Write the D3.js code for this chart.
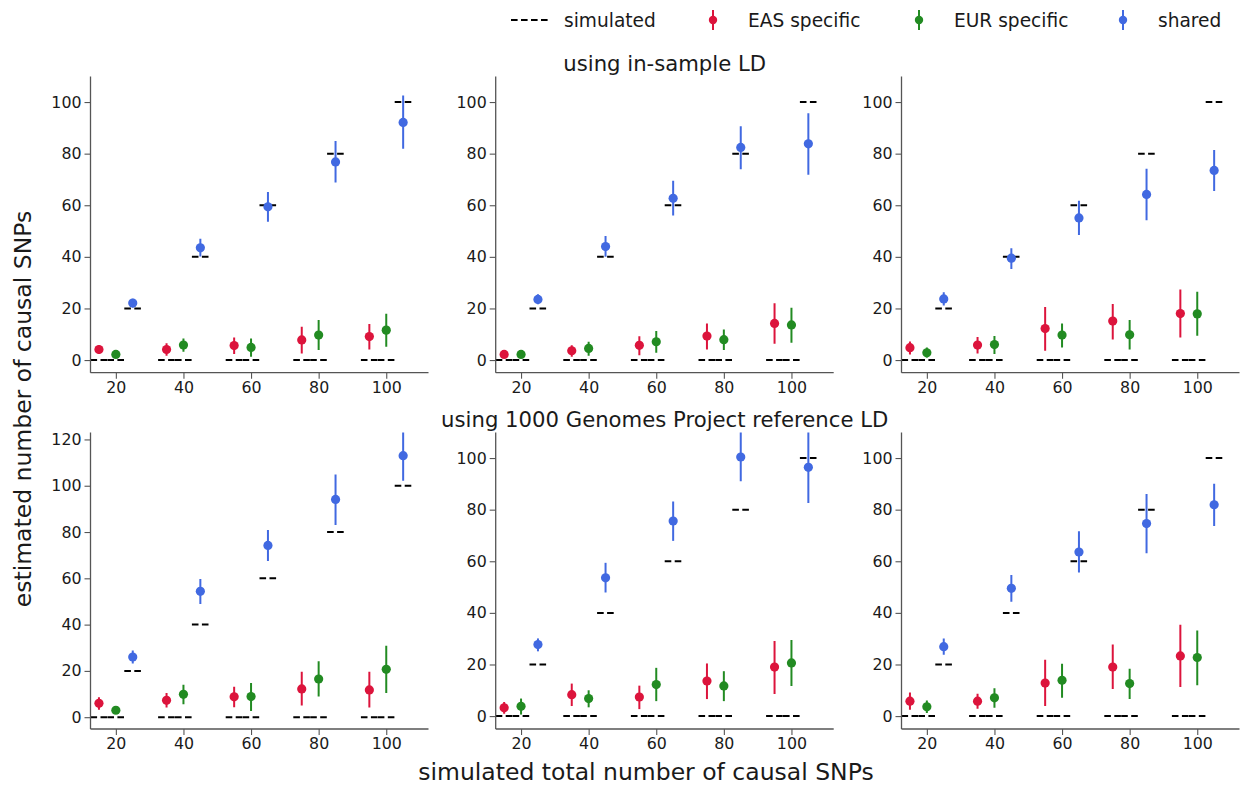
<!DOCTYPE html>
<html><head><meta charset="utf-8">
<script src="https://cdn.jsdelivr.net/npm/d3@7"></script>
<style>body{margin:0;background:#fff;} text{font-family:"DejaVu Sans",sans-serif;}</style>
</head><body>
<svg id="chart" width="1241" height="785"></svg>
<script>
const categories = [20, 40, 60, 80, 100];
const seriesNames = ["EAS specific", "EUR specific", "shared"];
const seriesColors = ["#DC143C", "#228B22", "#4169E1"];
const seriesOffsets = [-5, 0, 5];
const rowTitles = ["using in-sample LD", "using 1000 Genomes Project reference LD"];
const yTicksDefault = [0, 20, 40, 60, 80, 100];
const yTicksWide = [0, 20, 40, 60, 80, 100, 120];
const xLabel = "simulated total number of causal SNPs";
const yLabel = "estimated number of causal SNPs";

// each entry: [value, lower, upper] per category
const inSample_EAS_col1 = [[4.1,2.3,5.7],[4.1,1.7,6.5],[5.6,2.3,8.7],[7.8,2.5,12.9],[9.1,4.1,14.0]];
const inSample_EUR_col1 = [[2.2,1.0,3.5],[5.8,3.2,8.4],[4.9,1.3,8.4],[9.7,3.9,15.5],[11.6,5.2,17.9]];
const inSample_shared_col1 = [[22.1,20.4,23.8],[43.5,40.1,47.0],[59.4,53.6,65.1],[76.8,68.8,84.9],[92.1,81.9,102.5]];

const inSample_EAS_col2 = [[2.2,1.6,2.8],[3.6,1.3,5.7],[5.7,1.9,9.2],[9.3,4.1,14.2],[14.2,6.3,22.0]];
const inSample_EUR_col2 = [[2.2,1.6,2.8],[4.5,1.7,7.1],[7.1,2.8,11.3],[7.9,3.9,11.8],[13.6,6.7,20.3]];
const inSample_shared_col2 = [[23.5,21.6,25.5],[44.0,40.0,48.1],[62.7,56.0,69.5],[82.4,74.0,90.6],[83.8,71.8,95.7]];

const inSample_EAS_col3 = [[4.8,2.2,7.2],[5.8,2.5,8.9],[12.2,3.6,20.6],[15.1,8.0,21.7],[18.0,8.7,27.3]];
const inSample_EUR_col3 = [[2.8,1.0,4.9],[6.0,2.3,9.3],[9.7,4.9,14.2],[9.8,4.1,15.5],[17.9,9.4,26.5]];
const inSample_shared_col3 = [[23.7,21.1,26.3],[39.5,35.3,43.3],[55.1,48.5,61.7],[64.2,54.2,74.1],[73.5,65.5,81.4]];

const ref_EAS_col1 = [[6.0,3.2,8.6],[7.3,4.2,10.4],[8.8,4.3,13.1],[12.2,5.0,19.6],[11.8,4.2,19.6]];
const ref_EUR_col1 = [[3.0,1.7,4.6],[9.9,5.6,14.0],[8.9,2.7,14.8],[16.5,8.9,24.2],[20.7,10.4,30.9]];
const ref_shared_col1 = [[26.0,23.2,28.8],[54.4,48.9,59.7],[74.2,67.5,80.9],[94.1,83.0,104.9],[113.0,102.2,124.5]];

const ref_EAS_col2 = [[3.2,0.9,5.5],[8.3,3.9,12.6],[7.4,2.7,11.8],[13.6,6.6,20.4],[19.0,8.6,29.1]];
const ref_EUR_col2 = [[3.8,0.6,6.8],[6.8,3.4,10.0],[12.2,5.8,18.7],[11.7,5.8,17.4],[20.6,11.7,29.5]];
const ref_shared_col2 = [[27.7,25.1,30.1],[53.6,47.9,59.4],[75.6,67.9,83.2],[100.4,91.0,111.0],[96.4,82.6,112.0]];

const ref_EAS_col3 = [[5.8,2.5,9.1],[5.8,2.8,8.7],[12.8,3.9,21.8],[19.0,10.5,27.7],[23.3,11.3,35.4]];
const ref_EUR_col3 = [[3.6,1.2,6.0],[7.1,3.2,10.8],[13.9,7.1,20.3],[12.6,6.6,18.3],[22.7,12.0,33.2]];
const ref_shared_col3 = [[26.9,23.8,30.1],[49.5,44.3,54.7],[63.6,55.6,71.6],[74.6,63.1,86.1],[81.9,73.7,90.0]];

const xDomain = [12.5, 112.5];
const yDomainRow1 = [-4.9, 109.9];
const yDomainRow2Col1 = [-5.1, 123.0];
const yDomainRow2 = [-5.0, 109.9];

const panels = [
  {row:0, col:0, series:[inSample_EAS_col1, inSample_EUR_col1, inSample_shared_col1], yDomain:yDomainRow1, yTicks:yTicksDefault},
  {row:0, col:1, series:[inSample_EAS_col2, inSample_EUR_col2, inSample_shared_col2], yDomain:yDomainRow1, yTicks:yTicksDefault},
  {row:0, col:2, series:[inSample_EAS_col3, inSample_EUR_col3, inSample_shared_col3], yDomain:yDomainRow1, yTicks:yTicksDefault},
  {row:1, col:0, series:[ref_EAS_col1, ref_EUR_col1, ref_shared_col1], yDomain:yDomainRow2Col1, yTicks:yTicksWide},
  {row:1, col:1, series:[ref_EAS_col2, ref_EUR_col2, ref_shared_col2], yDomain:yDomainRow2, yTicks:yTicksDefault},
  {row:1, col:2, series:[ref_EAS_col3, ref_EUR_col3, ref_shared_col3], yDomain:yDomainRow2, yTicks:yTicksDefault},
];

// layout
const colLeft = [90.5, 495.7, 901.5];
const panelW = 338;
const rowTop = [76.5, 432.5];
const rowBottom = [372.7, 729];
const spineColor = "#555";
const textColor = "#1a1a1a";
const dashPattern = "6.6,3.4";

const svg = d3.select("#chart");

panels.forEach(p => {
  const x0 = colLeft[p.col], x1 = x0 + panelW;
  const y0 = rowTop[p.row], y1 = rowBottom[p.row];
  const x = d3.scaleLinear().domain(xDomain).range([x0, x1]);
  const y = d3.scaleLinear().domain(p.yDomain).range([y1, y0]);
  const clipId = `clip-${p.row}-${p.col}`;
  svg.append("clipPath").attr("id", clipId).append("rect")
    .attr("x", x0).attr("y", y0).attr("width", panelW).attr("height", y1 - y0);
  const g = svg.append("g").attr("clip-path", `url(#${clipId})`);

  // simulated dashes
  categories.forEach(c => {
    seriesOffsets.forEach((off, si) => {
      const val = si === 2 ? c : 0;
      g.append("line")
        .attr("x1", x(c + off - 2.5)).attr("x2", x(c + off + 2.5))
        .attr("y1", y(val)).attr("y2", y(val))
        .attr("stroke", "#000").attr("stroke-width", 2)
        .attr("stroke-dasharray", dashPattern);
    });
  });

  // error bars & points
  p.series.forEach((data, si) => {
    data.forEach((d, ci) => {
      const cx = x(categories[ci] + seriesOffsets[si]);
      g.append("line")
        .attr("x1", cx).attr("x2", cx)
        .attr("y1", y(d[1])).attr("y2", y(d[2]))
        .attr("stroke", seriesColors[si]).attr("stroke-width", 2);
      g.append("circle")
        .attr("cx", cx).attr("cy", y(d[0])).attr("r", 4.6)
        .attr("fill", seriesColors[si]);
    });
  });

  // axes
  const xAxis = d3.axisBottom(x).tickValues(categories).tickSize(6).tickPadding(3);
  const yAxis = d3.axisLeft(y).tickValues(p.yTicks).tickSize(6).tickPadding(3);
  const gx = svg.append("g").attr("transform", `translate(0,${y1})`).call(xAxis);
  const gy = svg.append("g").attr("transform", `translate(${x0},0)`).call(yAxis);
  [gx, gy].forEach(ax => {
    ax.select(".domain").attr("stroke", spineColor).attr("stroke-width", 1.3);
    ax.selectAll(".tick line").attr("stroke", spineColor).attr("stroke-width", 1.1);
    ax.selectAll(".tick text").attr("fill", textColor).style("font-size", "15.8px").style("font-family", "DejaVu Sans");
  });
  gx.select(".domain").attr("d", `M${x0},0H${x1}`);
  gy.select(".domain").attr("d", `M0,${y1}V${y0}`);
});

// row titles
rowTitles.forEach((t, i) => {
  svg.append("text")
    .attr("x", colLeft[1] + panelW / 2)
    .attr("y", i === 0 ? 70.5 : 426.5)
    .attr("text-anchor", "middle")
    .attr("fill", textColor)
    .style("font-size", "21.2px")
    .text(t);
});

// axis labels
svg.append("text").attr("x", 646).attr("y", 780).attr("text-anchor", "middle")
  .attr("fill", textColor).style("font-size", "23.5px").text(xLabel);
svg.append("text").attr("transform", "translate(31,409) rotate(-90)").attr("text-anchor", "middle")
  .attr("fill", textColor).style("font-size", "23.5px").text(yLabel);

// legend
const legendY = 20;
const lg = svg.append("g");
lg.append("line").attr("x1", 511).attr("x2", 548).attr("y1", legendY).attr("y2", legendY)
  .attr("stroke", "#000").attr("stroke-width", 2).attr("stroke-dasharray", dashPattern);
lg.append("text").attr("x", 564).attr("y", legendY + 6.8).attr("fill", textColor)
  .style("font-size", "18.6px").text("simulated");
const legendMarkerX = [713, 919, 1123];
seriesNames.forEach((n, i) => {
  const mx = legendMarkerX[i];
  lg.append("line").attr("x1", mx).attr("x2", mx).attr("y1", legendY - 10).attr("y2", legendY + 10)
    .attr("stroke", seriesColors[i]).attr("stroke-width", 2);
  lg.append("circle").attr("cx", mx).attr("cy", legendY).attr("r", 4.2)
    .attr("fill", seriesColors[i]);
  lg.append("text").attr("x", mx + 35).attr("y", legendY + 6.8).attr("fill", textColor)
    .style("font-size", "18.6px").text(n);
});
</script>
</body></html>
